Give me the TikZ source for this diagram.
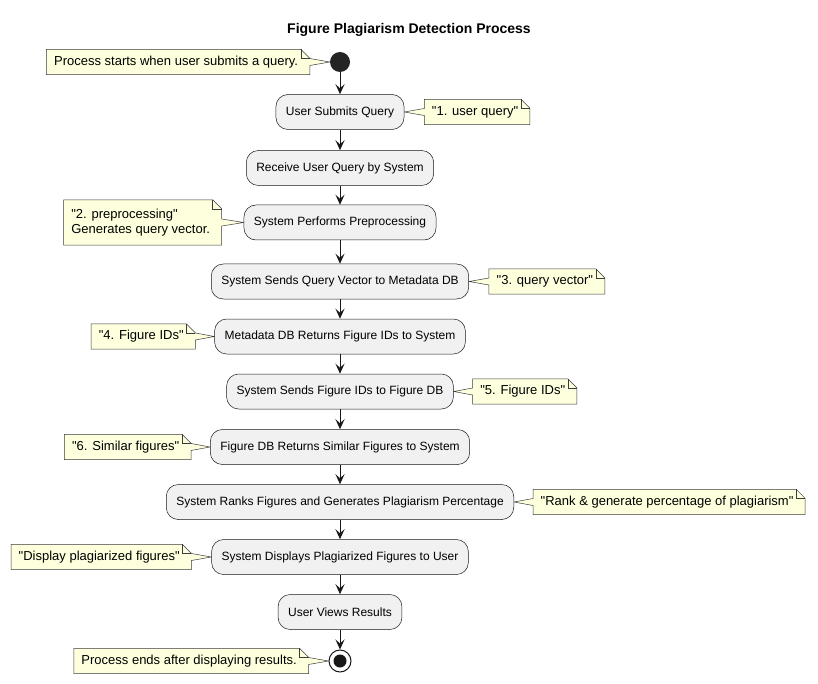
\documentclass[tikz,border=0pt]{standalone}
\usepackage{fontspec}
\setmainfont{Liberation Sans}
\usetikzlibrary{arrows.meta,positioning,backgrounds,calc}
\definecolor{actfill}{HTML}{F1F1F1}
\definecolor{notefill}{HTML}{FEFFDD}
\definecolor{linec}{HTML}{181818}
\newcommand\qq{\textquotedbl}
\newcommand\pad{\hspace*{4pt}}
\tikzset{
  act/.style={draw=linec, line width=0.5pt, fill=actfill, rounded corners=12pt,
    minimum height=35pt, inner xsep=10pt, font=\fontsize{12}{14}\selectfont},
  note/.style={font=\fontsize{13}{15.5}\selectfont, inner xsep=7.5pt, inner ysep=4pt,
    minimum height=25pt, align=left},
  notebox/.style={draw=linec!85, line width=0.5pt, fill=notefill, line join=miter},
  arr/.style={draw=linec, line width=1pt, -{Stealth[length=10pt,width=9pt,inset=4pt]}},
}
% note to the right of its target: tail on the west side
\newcommand\notetailW[2]{%
  \path[notebox] (#1.north west) -- ([xshift=-9pt]#1.north east) -- ([yshift=-9pt]#1.north east)
    -- (#1.south east) -- (#1.south west) -- ([yshift=-3.5pt]#1.west) -- (#2)
    -- ([yshift=3.5pt]#1.west) -- cycle;
  \draw[notebox,fill=none] ([xshift=-9pt]#1.north east) |- ([yshift=-9pt]#1.north east);
}
% note to the left of its target: tail on the east side
\newcommand\notetailE[2]{%
  \path[notebox] (#1.north west) -- ([xshift=-9pt]#1.north east) -- ([yshift=-9pt]#1.north east)
    -- ([yshift=3.5pt]#1.east) -- (#2) -- ([yshift=-3.5pt]#1.east)
    -- (#1.south east) -- (#1.south west) -- cycle;
  \draw[notebox,fill=none] ([xshift=-9pt]#1.north east) |- ([yshift=-9pt]#1.north east);
}
\begin{document}
\begin{tikzpicture}[x=1pt,y=-1pt]
\path[use as bounding box] (0,0) rectangle (818,684);

\node[font=\bfseries\fontsize{14}{16}\selectfont] (title) at (409,30) {Figure Plagiarism Detection Process};

\node[circle, fill=linec!95, minimum size=20pt, inner sep=0pt] (start) at (340,62) {};

\node[act] (b1) at (340,112) {User Submits Query};
\node[act] (b2) at (340,168) {Receive User Query by System};
\node[act] (b3) at (340,222.5) {System Performs Preprocessing};
\node[act] (b4) at (340,281.5) {System Sends Query Vector to Metadata DB};
\node[act] (b5) at (340,336.5) {Metadata DB Returns Figure IDs to System};
\node[act] (b6) at (340,391.5) {System Sends Figure IDs to Figure DB};
\node[act] (b7) at (340,447) {Figure DB Returns Similar Figures to System};
\node[act] (b8) at (340,502) {System Ranks Figures and Generates Plagiarism Percentage};
\node[act] (b9) at (340,557) {System Displays Plagiarized Figures to User};
\node[act] (b10) at (340,612) {User Views Results};

\node[circle, draw=linec, line width=1pt, fill=white, minimum size=22pt, inner sep=0pt,
  path picture={\fill[linec] (path picture bounding box.center) circle (6.5pt);}] (endc) at (340,661) {};

% notes
\node[note, left=20pt of start] (nstart) {Process starts when user submits a query.\pad};
\node[note, right=20pt of b1] (n1) {\qq1. user query\qq\pad};
\node[note, left=22pt of b3, minimum height=45pt] (n2) {\qq2. preprocessing\qq\\Generates query vector.\pad};
\node[note, right=20pt of b4] (n3) {\qq3. query vector\qq\pad};
\node[note, left=19pt of b5] (n4) {\qq4. Figure IDs\qq\pad};
\node[note, right=19pt of b6] (n5) {\qq5. Figure IDs\qq\pad};
\node[note, left=19pt of b7] (n6) {\qq6. Similar figures\qq\pad};
\node[note, right=19pt of b8] (n8) {\qq Rank \& generate percentage of plagiarism\qq\pad};
\node[note, left=20pt of b9] (n9) {\qq Display plagiarized figures\qq\pad};
\node[note, left=20pt of endc] (nend) {Process ends after displaying results.\pad};

\begin{scope}[on background layer]
  \notetailE{nstart}{start.west}
  \notetailW{n1}{b1.east}
  \notetailE{n2}{b3.west}
  \notetailW{n3}{b4.east}
  \notetailE{n4}{b5.west}
  \notetailW{n5}{b6.east}
  \notetailE{n6}{b7.west}
  \notetailW{n8}{b8.east}
  \notetailE{n9}{b9.west}
  \notetailE{nend}{endc.west}
\end{scope}

% flow
\draw[arr] (start) -- (b1);
\draw[arr] (b1) -- (b2);
\draw[arr] (b2) -- (b3);
\draw[arr] (b3) -- (b4);
\draw[arr] (b4) -- (b5);
\draw[arr] (b5) -- (b6);
\draw[arr] (b6) -- (b7);
\draw[arr] (b7) -- (b8);
\draw[arr] (b8) -- (b9);
\draw[arr] (b9) -- (b10);
\draw[arr] (b10) -- (endc);
\end{tikzpicture}
\end{document}
